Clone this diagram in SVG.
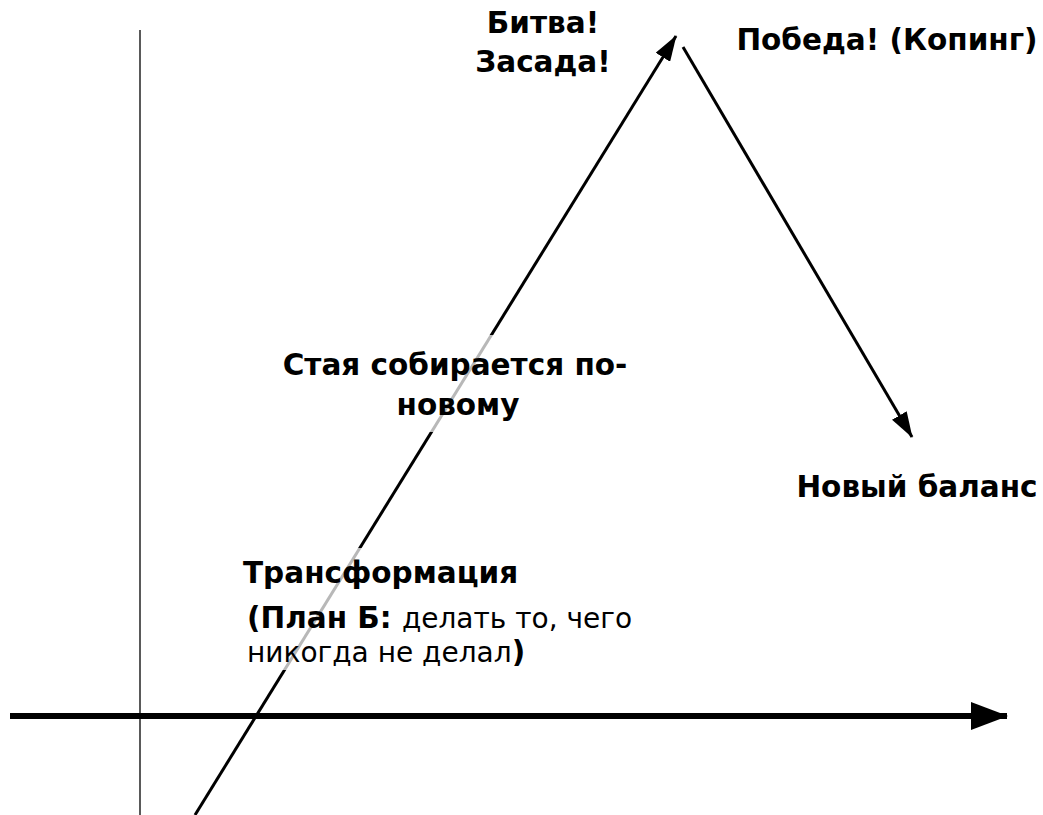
<svg xmlns="http://www.w3.org/2000/svg" width="1043" height="815" viewBox="0 0 1043 815">
<style>
.t{font-family:"DejaVu Sans","Noto Sans",sans-serif;font-size:29.5px;font-weight:bold;fill:#000}
.n{font-weight:normal;font-size:28px}
.bg{fill:#fff;fill-opacity:0.72}
</style>
<defs>
<marker id="ax" markerUnits="userSpaceOnUse" viewBox="0 0 37 28" refX="36" refY="14" markerWidth="37" markerHeight="28" orient="auto"><path d="M0,0 L37,14 L0,28 z" fill="#000"/></marker>
<marker id="ah" markerUnits="userSpaceOnUse" viewBox="0 0 26 17" refX="25" refY="8.5" markerWidth="26" markerHeight="17" orient="auto"><path d="M0,0 L26,8.5 L0,17 z" fill="#000"/></marker>
</defs>
<rect width="1043" height="815" fill="#fff"/>
<g id="connectors">
<line x1="140" y1="30" x2="140" y2="815" stroke="#000" stroke-width="1.3"/>
<path d="M10,716 L1007,716" stroke="#000" stroke-width="6" marker-end="url(#ax)"/>
<path d="M195,815 L676,36" stroke="#000" stroke-width="3" marker-end="url(#ah)"/>
<path d="M683,47 L912,437" stroke="#000" stroke-width="3" marker-end="url(#ah)"/>
</g>
<g id="n-battle"><text class="t" x="543" y="33" text-anchor="middle">Битва!</text><text class="t" x="543" y="72" text-anchor="middle">Засада!</text></g>
<g id="n-victory"><text class="t" x="887" y="50" text-anchor="middle">Победа! (Копинг)</text></g>
<g id="n-flock"><rect class="bg" x="275" y="335" width="360" height="97"/><text class="t" x="455" y="375" text-anchor="middle">Стая собирается по-</text><text class="t" x="458" y="415" text-anchor="middle">новому</text></g>
<g id="n-balance"><text class="t" x="917" y="497" text-anchor="middle">Новый баланс</text></g>
<g id="n-transform"><rect class="bg" x="238" y="548" width="397" height="122"/><text class="t" x="243" y="583">Трансформация</text><text class="t" x="247" y="628">(План Б: <tspan class="n">делать то, чего</tspan></text><text class="t" x="247" y="662"><tspan class="n">никогда не делал</tspan>)</text></g>
</svg>
